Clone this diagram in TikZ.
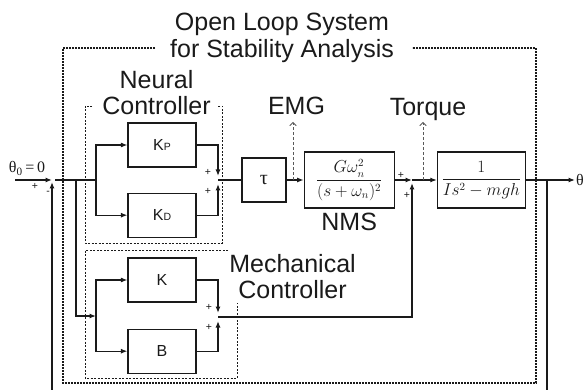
\documentclass[tikz,border=0pt]{standalone}
\usepackage{amsmath}
\usepackage{fontspec}
\setmainfont{Liberation Sans}
\newfontfamily\symfont{Liberation Serif}
\usetikzlibrary{arrows.meta, positioning}
\definecolor{DiagInk}{HTML}{1A1A1A}
\newcommand{\gsub}[1]{{\fontsize{10.5}{11}\selectfont #1}}

\begin{document}
\begin{tikzpicture}[x=1pt, y=-1pt, >={Latex[length=6.5pt,width=5pt]},
        blk/.style={rectangle, draw=DiagInk, line width=1.2pt, minimum width=68pt, minimum height=44pt, inner sep=0pt, text centered, font=\fontsize{16}{18}\selectfont, text=DiagInk},
        lbl/.style={inner sep=0pt, font=\fontsize{25}{26.5}\selectfont, text=DiagInk, align=center},
        sgn/.style={inner sep=0pt, font=\fontsize{10.5}{10.5}\selectfont, text=DiagInk},
        sig/.style={line width=1.2pt, DiagInk},
        probe/.style={-{Straight Barb[length=3pt,width=6.5pt]}, gray!70!black, line width=0.9pt, dash pattern=on 3pt off 2pt},
        group/.style={DiagInk, line width=0.7pt, dash pattern=on 2pt off 1.5pt},
        outer/.style={DiagInk, line width=2.3pt, dash pattern=on 1.6pt off 1.4pt}
    ]
    \useasboundingbox (0,0) rectangle (586,390);

    % Labels
    \node[lbl, anchor=north] (title) at (282,13) {Open Loop System\\for Stability Analysis};
    \node[lbl, anchor=north] (neural) at (156.5,70) {Neural\\Controller};
    \node[lbl, anchor=north] (mech) at (292.5,254) {Mechanical\\Controller};
    \node[lbl, anchor=base] (emg) at (296.5,115) {EMG};
    \node[lbl, anchor=base] (torque) at (428,116) {Torque};

    % Controller blocks
    \node[blk] (kp) at (162,145) {K\gsub{P}};
    \node[blk, below=25pt of kp] (kd) {K\gsub{D}};
    \node[blk] (k) at (162,280) {K};
    \node[blk, below=26pt of k] (b) {B};

    % Forward path
    \node[blk, minimum width=44pt, font=\symfont\fontsize{20}{22}\selectfont] (tau) at (264,180) {τ};
    \node[blk, minimum width=90pt, minimum height=56pt, right=17pt of tau] (nms) {$\dfrac{G\omega_n^2}{(s+\omega_n)^2}$};
    \node[blk, minimum width=88pt, minimum height=56pt, right=42pt of nms] (plant) {$\dfrac{1}{Is^2-mgh}$};
    \node[lbl, anchor=north, below=4pt of nms] (nmslbl) {NMS};

    % Input / output
    \node[anchor=base, inner sep=0pt, font=\symfont\fontsize{16}{18}\selectfont, text=DiagInk] (ref) at (27,173) {θ\textsubscript{0}\,=\,0};
    \node[anchor=west, inner sep=1pt, font=\symfont\fontsize{16}{18}\selectfont, text=DiagInk] (theta) at (575,180) {θ};

    % Junctions
    \coordinate (inp) at (15,180);
    \coordinate (sum0) at (52,180);
    \coordinate (split) at (76,180);
    \coordinate (fork) at (96,180);
    \coordinate (forkM) at (96,316);
    \coordinate (sumN) at (218,180);
    \coordinate (sumM) at (218,317);
    \coordinate (sumT) at (412,180);
    \coordinate (tap) at (547,180);
    \coordinate (fbR) at (547,392);
    \coordinate (fbL) at (52,392);
    \coordinate (emgP) at (293,180);
    \coordinate (emgTip) at (293,122);
    \coordinate (trqP) at (423,180);
    \coordinate (trqTip) at (423,122);

    % Signs
    \node[sgn] (s0a) at (35,186) {+};
    \node[sgn] (s0b) at (48,193) {-};
    \node[sgn] (sNa) at (208,172) {+};
    \node[sgn] (sNb) at (208,191) {+};
    \node[sgn] (sMa) at (209,307) {+};
    \node[sgn] (sMb) at (209,327) {+};
    \node[sgn] (sTa) at (401,175) {+};
    \node[sgn] (sTb) at (407,195) {+};

    % Group frames
    \draw[outer] (155,48) -- (63,48) -- (63,383) -- (536,383) -- (536,48) -- (412,48);
    \draw[group] (92,106) -- (85,106) -- (85,243) -- (222,243) -- (222,106) -- (218,106);
    \draw[group] (228,250) -- (85,250) -- (85,378) -- (237,378) -- (237,303);

    % Arrows input side
    \draw[sig, ->] (inp) -- (sum0);
    \draw[sig] ([xshift=3pt]sum0) -- (fork);
    \draw[sig, ->] (fork) |- (kp.west);
    \draw[sig, ->] (fork) |- (kd.west);
    \draw[sig, ->] (split) |- (forkM);
    \draw[sig, ->] (forkM) |- (k.west);
    \draw[sig, ->] (forkM) |- (b.west);

    % Arrows controllers
    \draw[sig, ->, shorten >=4pt] (kp.east) -| (sumN);
    \draw[sig, ->, shorten >=4pt] (kd.east) -| (sumN);
    \draw[sig, ->, shorten >=4pt] (k.east) -| (sumM);
    \draw[sig, ->, shorten >=4pt] (b.east) -| (sumM);
    \draw[sig, ->, shorten >=3pt] (sumM) -| (sumT);

    % Arrows forward path
    \draw[sig] (sumN) -- (tau.west);
    \draw[sig, ->] (tau) -- (nms);
    \draw[sig, ->] (nms) -- (sumT);
    \draw[sig, ->] (sumT) -- (plant);
    \draw[sig, ->] (plant) -- (theta);

    % Feedback
    \draw[sig] (tap) -- (fbR);
    \draw[sig, ->, shorten >=2pt] (fbL) -- (sum0);

    % Probes
    \draw[probe] (emgP) -- (emgTip);
    \draw[probe] (trqP) -- (trqTip);

\end{tikzpicture}
\end{document}
